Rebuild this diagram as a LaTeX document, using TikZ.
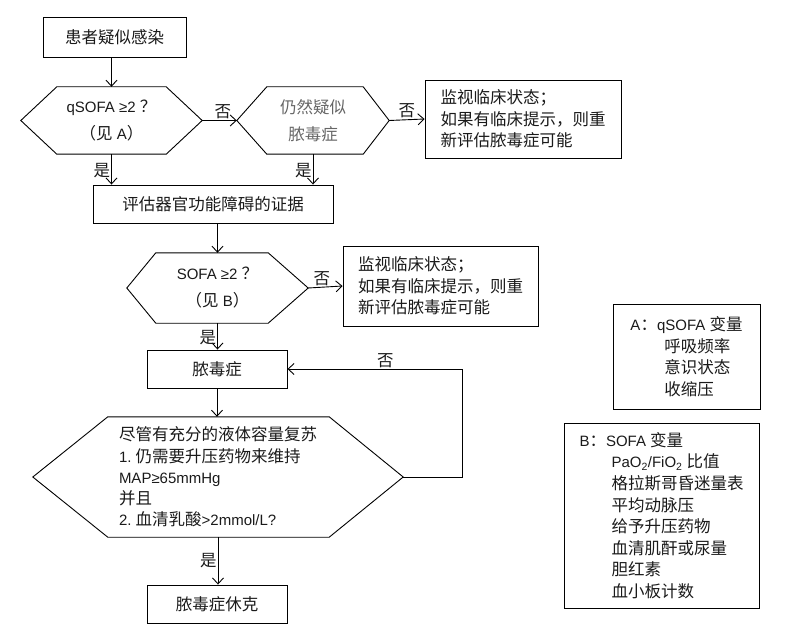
\documentclass[tikz,border=0pt]{standalone}
\usepackage{fontspec}
\setmainfont{Liberation Sans}
\newfontfamily\cjk{Noto Sans CJK SC}[Scale=1.1]
\usetikzlibrary{arrows.meta}
\definecolor{ink}{HTML}{1a1a1a}
\tikzset{
    box/.style={
        draw, line width=0.9pt,
        inner sep=0pt,
        minimum height=38pt,
        font=\fontsize{15}{21.6}\selectfont\cjk
    },
    hexa/.style={
        inner sep=0pt, align=center,
        font=\fontsize{15}{27}\selectfont
    },
    note/.style={
        box, align=left
    },
    legend/.style={
        box, align=left,
        font=\fontsize{15}{21.6}\selectfont
    },
    conn/.style={
        line width=0.9pt,
        -{Straight Barb[length=6pt, width=11pt]},
    },
    lbl/.style={inner sep=1pt, font=\fontsize{15}{18}\selectfont\cjk},
}
\newcommand{\hexline}[3]{%
    \draw[line width=0.9pt] (#1.west) -- ([xshift=#2pt]#1.north west)
        -- ([xshift=-#3pt]#1.north east) -- (#1.east)
        -- ([xshift=-#3pt]#1.south east) -- ([xshift=#2pt]#1.south west) -- cycle;}

\begin{document}
\begin{tikzpicture}[x=1pt, y=-1pt, text=ink, font=\fontsize{15}{21.6}\selectfont]
        \useasboundingbox (0,0) rectangle (794,631);

        \node[box, minimum width=143pt, minimum height=40pt] (susp) at (114.5,37) {患者疑似感染};

        \node[hexa, minimum width=181pt, minimum height=67pt] (qsofa) at (111.5,120.5) {qSOFA ≥2 {\cjk ？}\\{\cjk （见} A{\cjk ）}};
        \node[hexa, minimum width=152pt, minimum height=67pt, text=black!60,
            font=\fontsize{15}{27}\selectfont\cjk] (still) at (313,120.5) {仍然疑似\\脓毒症};
        \node[note, minimum width=196pt, minimum height=78pt] (mon1) at (523,119) {监视临床状态；\\如果有临床提示，则重\\新评估脓毒症可能};

        \node[box, minimum width=240pt] (evid) at (213,204) {评估器官功能障碍的证据};

        \node[hexa, minimum width=181pt, minimum height=70pt] (sofa) at (217.5,288) {SOFA ≥2 {\cjk ？}\\{\cjk （见} B{\cjk ）}};
        \node[note, minimum width=195pt, minimum height=80pt] (mon2) at (440.5,286) {监视临床状态；\\如果有临床提示，则重\\新评估脓毒症可能};

        \node[box, minimum width=140pt] (sepsis) at (217,369) {脓毒症};

        \node[hexa, align=left, minimum width=370pt, minimum height=120pt,
            font=\fontsize{15}{21.3}\selectfont] (shockq) at (218,477)
            {{\cjk 尽管有充分的液体容量复苏}\\1.\ {\cjk 仍需要升压药物来维持}\\MAP≥65mmHg\\{\cjk 并且}\\2.\ {\cjk 血清乳酸}>2mmol/L?};

        \node[box, minimum width=140pt] (shock) at (217,604) {脓毒症休克};

        % legends
        \node[legend, minimum width=147pt, minimum height=105pt] (legA) at (686.5,356.5)
            {A{\cjk ：}qSOFA {\cjk 变量}\\\hspace*{34pt}{\cjk 呼吸频率}\\\hspace*{34pt}{\cjk 意识状态}\\\hspace*{34pt}{\cjk 收缩压}};
        \node[legend, minimum width=195pt, minimum height=185pt] (legB) at (661.5,515.5)
            {B{\cjk ：}SOFA {\cjk 变量}\\\hspace*{32pt}PaO\textsubscript{2}/FiO\textsubscript{2} {\cjk 比值}
            \\\hspace*{32pt}{\cjk 格拉斯哥昏迷量表}\\\hspace*{32pt}{\cjk 平均动脉压}
            \\\hspace*{32pt}{\cjk 给予升压药物}\\\hspace*{32pt}{\cjk 血清肌酐或尿量}
            \\\hspace*{32pt}{\cjk 胆红素}\\\hspace*{32pt}{\cjk 血小板计数}};

        \hexline{qsofa}{36}{36}
        \hexline{still}{30}{26}
        \hexline{sofa}{29}{40}
        \hexline{shockq}{75}{74}

        \draw[conn] (susp.south -| qsofa.north) -- (qsofa.north);
        \draw[conn] (qsofa.east) -- node[lbl, above, pos=0.6] {否} (still.west);
        \draw[conn] (still.east) -- node[lbl, above, pos=0.5] {否} (mon1.west);
        \draw[conn] (qsofa.south) -- node[lbl, left, pos=0.55] {是} (qsofa.south |- evid.north);
        \draw[conn] (still.south) -- node[lbl, left, pos=0.55] {是} (still.south |- evid.north);
        \draw[conn] (sofa.north |- evid.south) -- (sofa.north);
        \draw[conn] (sofa.east) -- node[lbl, above, pos=0.4] {否} (mon2.west);
        \draw[conn] (sofa.south) -- node[lbl, left, pos=0.55] {是} (sofa.south |- sepsis.north);
        \draw[conn] (sepsis.south) -- (sepsis.south |- shockq.north);
        \draw[conn] (shockq.east) -- ++(59,0) |- node[lbl, above, pos=0.72] {否} (sepsis.east);
        \draw[conn] (shockq.south) -- node[lbl, left, pos=0.5] {是} (shockq.south |- shock.north);
    \end{tikzpicture}
\end{document}
